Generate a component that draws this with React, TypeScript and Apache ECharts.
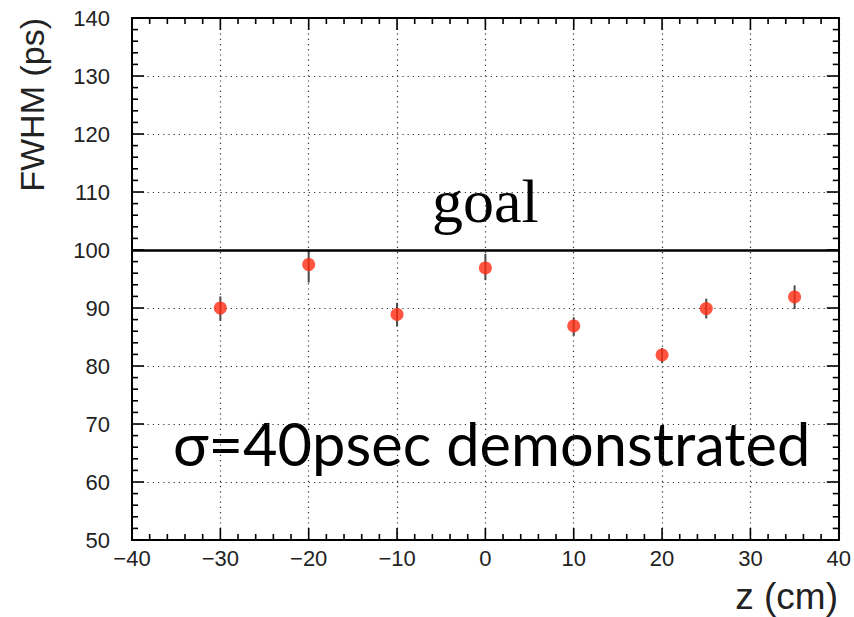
import React, { useEffect, useRef } from "react";
import * as echarts from "echarts";

const zPositions = [-30, -20, -10, 0, 10, 20, 25, 35];
const fwhm = [90, 97.5, 88.9, 96.9, 86.9, 81.9, 89.9, 91.9];
const errLow = [87.8, 94.4, 86.8, 94.8, 85.2, 80.5, 88.2, 89.8];
const errHigh = [92, 100, 90.9, 99.3, 88.4, 83.1, 91.6, 93.9];
const goalValue = 100;
const xRange = [-40, 40];
const yRange = [50, 140];
const majorStep = 10;
const minorStep = 2;
const yTitle = "FWHM (ps)";
const xTitle = "z (cm)";
const goalText = "goal";
const noteText = "σ=40psec demonstrated";

const axisFont = "'Liberation Sans', Arial, sans-serif";

function tickValues(range: number[]) {
  const out: number[] = [];
  const n = Math.round((range[1] - range[0]) / minorStep);
  for (let i = 0; i <= n; i++) out.push(range[0] + i * minorStep);
  return out;
}

function makeAxis(range: number[], position: string, withLabels: boolean, labelMargin: number, formatter?: (v: number) => string) {
  return {
    type: "value",
    min: range[0],
    max: range[1],
    interval: majorStep,
    position,
    axisLine: { show: true, onZero: false, lineStyle: { color: "#000", width: 2 } },
    axisTick: { show: false },
    minorTick: { show: false },
    splitLine: withLabels
      ? { show: true, lineStyle: { color: "#333", width: 1.2, type: [1.2, 4] } }
      : { show: false },
    axisLabel: withLabels
      ? { show: true, fontSize: 22, fontFamily: axisFont, color: "#222", margin: labelMargin, formatter }
      : { show: false },
  };
}

export default function App() {
  const ref = useRef<HTMLDivElement>(null);
  useEffect(() => {
    if (!ref.current) return;
    const chart = echarts.init(ref.current, null, { renderer: "svg" });
    const fmt = (v: number) => (v < 0 ? "\u2212" + Math.abs(v) : String(v));
    const isMajor = (v: number) => (Math.abs(v % majorStep) < 1e-6 ? 1 : 0);
    const xTicks = tickValues(xRange).map((v) => [v, yRange[0], isMajor(v)]);
    const yTicks = tickValues(yRange).map((v) => [xRange[0], v, isMajor(v)]);
    const tickStyle = { stroke: "#000", lineWidth: 1.6 };
    chart.setOption({
      animation: false,
      grid: { left: 132, right: 14, top: 18, bottom: 77 },
      xAxis: [
        makeAxis(xRange, "bottom", true, 7, fmt),
        makeAxis(xRange, "top", false, 0),
      ],
      yAxis: [
        makeAxis(yRange, "left", true, 22),
        makeAxis(yRange, "right", false, 0),
      ],
      series: [
        {
          type: "custom",
          xAxisIndex: 0,
          yAxisIndex: 0,
          z: 2,
          silent: true,
          encode: { x: 0, y: 1 },
          data: xTicks,
          renderItem: (params: any, api: any) => {
            const v = api.value(0);
            const len = api.value(2) === 1 ? 12 : 6;
            const b = api.coord([v, yRange[0]]);
            const t = api.coord([v, yRange[1]]);
            return {
              type: "group",
              children: [
                { type: "line", shape: { x1: b[0], y1: b[1], x2: b[0], y2: b[1] - len }, style: tickStyle },
                { type: "line", shape: { x1: t[0], y1: t[1], x2: t[0], y2: t[1] + len }, style: tickStyle },
              ],
            };
          },
        },
        {
          type: "custom",
          xAxisIndex: 0,
          yAxisIndex: 0,
          z: 2,
          silent: true,
          encode: { x: 0, y: 1 },
          data: yTicks,
          renderItem: (params: any, api: any) => {
            const v = api.value(1);
            const len = api.value(2) === 1 ? 12 : 6;
            const l = api.coord([xRange[0], v]);
            const r = api.coord([xRange[1], v]);
            return {
              type: "group",
              children: [
                { type: "line", shape: { x1: l[0], y1: l[1], x2: l[0] + len, y2: l[1] }, style: tickStyle },
                { type: "line", shape: { x1: r[0], y1: r[1], x2: r[0] - len, y2: r[1] }, style: tickStyle },
              ],
            };
          },
        },
        {
          type: "custom",
          xAxisIndex: 0,
          yAxisIndex: 0,
          z: 3,
          encode: { x: 0, y: [1, 2] },
          data: zPositions.map((z, i) => [z, errLow[i], errHigh[i]]),
          renderItem: (params: any, api: any) => {
            const x = api.value(0);
            const lo = api.coord([x, api.value(1)]);
            const hi = api.coord([x, api.value(2)]);
            return {
              type: "line",
              shape: { x1: lo[0], y1: lo[1], x2: hi[0], y2: hi[1] },
              style: { stroke: "#4a4a4a", lineWidth: 2 },
            };
          },
        },
        {
          type: "scatter",
          xAxisIndex: 0,
          yAxisIndex: 0,
          z: 4,
          symbol: "circle",
          symbolSize: 13,
          itemStyle: { color: "#ff2a12" },
          data: zPositions.map((z, i) => [z, fwhm[i]]),
          markLine: {
            silent: true,
            symbol: "none",
            label: { show: false },
            lineStyle: { color: "#000", width: 2.5, type: "solid" },
            data: [{ yAxis: goalValue }],
          },
        },
      ],
      graphic: [
        {
          type: "text",
          x: 32,
          y: 18,
          rotation: Math.PI / 2,
          style: { text: yTitle, fontSize: 34, fontFamily: axisFont, fill: "#222", align: "right", verticalAlign: "middle" },
        },
        {
          type: "text",
          x: 838,
          y: 596,
          style: { text: xTitle, fontSize: 37, fontFamily: axisFont, fill: "#222", align: "right", verticalAlign: "middle" },
        },
        {
          type: "text",
          x: 432,
          y: 201,
          style: { text: goalText, fontSize: 62, fontFamily: "'Liberation Serif', 'Times New Roman', serif", fill: "#000", align: "left", verticalAlign: "middle" },
        },
        {
          type: "text",
          x: 173,
          y: 443,
          style: { text: noteText, fontSize: 59.5, fontFamily: "Lato, 'Open Sans', sans-serif", fill: "#000", align: "left", verticalAlign: "middle" },
        },
      ],
    });
    return () => chart.dispose();
  }, []);
  return (
    <div
      ref={ref}
      style={{ position: "absolute", left: 0, top: 0, width: 854, height: 617, background: "#fff" }}
    />
  );
}
